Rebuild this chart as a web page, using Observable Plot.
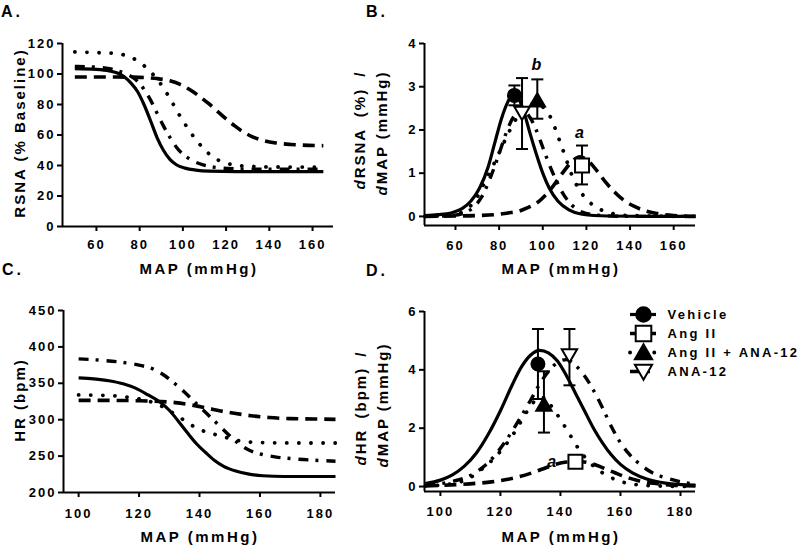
<!DOCTYPE html>
<html><head><meta charset="utf-8">
<script src="https://cdn.jsdelivr.net/npm/d3@7"></script>
<script src="https://cdn.jsdelivr.net/npm/@observablehq/plot@0.6"></script>
<style>
html,body{margin:0;padding:0;background:#fff;}
#wrap{position:relative;width:800px;height:546px;overflow:hidden;background:#fff;}
.panel{position:absolute;}
#overlay{position:absolute;left:0;top:0;pointer-events:none;}
#overlay text{font-family:"Liberation Sans",Arial,sans-serif;font-weight:bold;fill:#000;}
</style></head><body>
<div id="wrap">
  <div class="panel" id="pA" style="left:0;top:0;width:345px;height:273px"></div>
  <div class="panel" id="pB" style="left:345px;top:0;width:455px;height:273px"></div>
  <div class="panel" id="pC" style="left:0;top:273px;width:345px;height:273px"></div>
  <div class="panel" id="pD" style="left:345px;top:273px;width:455px;height:273px"></div>
  <div class="panel" id="legend" style="left:620px;top:290px;width:180px;height:105px"></div>
  <svg id="overlay" width="800" height="546">
    <g font-size="16" letter-spacing="3">
      <text x="1" y="17">A.</text>
      <text x="366" y="17">B.</text>
      <text x="2" y="275">C.</text>
      <text x="366" y="276">D.</text>
    </g>
    <g font-size="15" letter-spacing="2.5" text-anchor="middle">
      <text x="199" y="274">MAP (mmHg)</text>
      <text x="561" y="274">MAP (mmHg)</text>
      <text x="200" y="542">MAP (mmHg)</text>
      <text x="561" y="542">MAP (mmHg)</text>
    </g>
    <g font-size="15" letter-spacing="2" text-anchor="middle">
      <text transform="translate(25,133) rotate(-90)">RSNA (% Baseline)</text>
      <text transform="translate(365,130) rotate(-90)" word-spacing="5"><tspan font-style="italic">d</tspan>RSNA (%) /</text>
      <text transform="translate(387,133) rotate(-90)"><tspan font-style="italic">d</tspan>MAP (mmHg)</text>
      <text transform="translate(25,400) rotate(-90)">HR (bpm)</text>
      <text transform="translate(366,408) rotate(-90)" word-spacing="4"><tspan font-style="italic">d</tspan>HR (bpm) /</text>
      <text transform="translate(388,405) rotate(-90)"><tspan font-style="italic">d</tspan>MAP (mmHg)</text>
    </g>
  </svg>
</div>
<script>
// ---------- series names ----------
const seriesNames = ["Vehicle", "Ang II", "Ang II + ANA-12", "ANA-12"];

// ---------- Panel A: RSNA (% baseline) vs MAP ----------
const rsnaVehicle = [[50,103.5],[60,103],[66,102],[70,100.5],[73,98],[76,94],[79,88.5],[82,80],[85,69.5],[88,58.5],[91,50],[94,44],[97,40.5],[101,38.3],[106,37],[112,36.3],[125,36],[145,36],[165,36]];
const rsnaAngII = [[50,98],[60,98],[70,98],[80,97.8],[88,97],[94,95.5],[99,93],[104,89],[108,85],[112,80.5],[116,75.5],[120,70.5],[124,66],[128,62],[132,59],[137,56.5],[143,54.8],[150,53.8],[158,53.2],[165,53]];
const rsnaAngIIAna = [[50,114.5],[60,114],[68,113.5],[74,112],[78,109.5],[82,105.5],[86,100],[90,93],[94,84],[98,74],[102,65],[106,57],[110,50.5],[114,45.5],[118,42.5],[123,40.5],[130,39.5],[145,39],[165,39]];
const rsnaAna12 = [[50,105],[60,104.5],[66,103.5],[70,102],[74,100],[78,96.5],[82,90],[85,83],[88,74.5],[91,66],[94,58.5],[97,52],[100,47.5],[104,43.5],[109,40.5],[115,38.8],[125,37.8],[140,37.5],[165,37.5]];
const rsnaTicks = [0,20,40,60,80,100,120];
const mapTicksA = [60,80,100,120,140,160];

// ---------- Panel B: dRSNA/dMAP ----------
const drsnaVehicle = [[46,0.02],[52,0.04],[58,0.08],[63,0.18],[67,0.35],[71,0.65],[75,1.15],[78,1.7],[81,2.25],[84,2.65],[86.5,2.82],[89,2.72],[91.5,2.4],[94,1.95],[97,1.45],[100,1.0],[103,0.65],[107,0.35],[112,0.15],[118,0.05],[130,0.01],[150,0],[170,0]];
const drsnaAngII = [[46,0],[60,0.01],[70,0.02],[78,0.04],[84,0.08],[89,0.12],[93,0.2],[97,0.3],[101,0.48],[105,0.72],[109,1.0],[113,1.25],[117,1.38],[120,1.32],[123,1.17],[126,0.98],[129,0.78],[133,0.56],[137,0.38],[142,0.23],[147,0.13],[153,0.06],[160,0.02],[170,0]];
const drsnaAngIIAna = [[46,0],[55,0.02],[60,0.05],[64,0.12],[67,0.25],[70,0.45],[73,0.75],[77,1.15],[81,1.58],[85,2.0],[89,2.35],[93,2.56],[97,2.62],[101,2.48],[104,2.25],[107,1.85],[110,1.43],[113,1.0],[116,0.68],[120,0.4],[125,0.2],[130,0.09],[140,0.02],[170,0]];
const drsnaAna12 = [[46,0],[58,0.02],[64,0.08],[68,0.2],[72,0.45],[76,0.9],[80,1.45],[83,1.9],[86,2.25],[89,2.42],[91,2.44],[94,2.3],[97,2.0],[100,1.6],[103,1.2],[106,0.85],[109,0.55],[113,0.28],[118,0.1],[125,0.03],[140,0],[170,0]];
const drsnaPtMAP  = [87, 118, 97.5, 90.5];
const drsnaPtMean = [2.8, 1.18, 2.68, 2.4];
const drsnaPtLo   = [2.57, 0.74, 2.26, 1.56];
const drsnaPtHi   = [3.03, 1.64, 3.17, 3.2];
const drsnaNotes = [{map: 97.5, v: 3.5, t: "b"}, {map: 117.3, v: 1.93, t: "a"}];
const drsnaTicks = [0,1,2,3,4];
const mapTicksB = [60,80,100,120,140,160];

// ---------- Panel C: HR (bpm) vs MAP ----------
const hrVehicle = [[100,357.5],[105,356],[110,353.5],[115,349],[119,343],[123,334],[127,324],[130,313],[133,298],[136,282],[139,267],[142,255],[145,244],[148,236],[152,229.5],[156,225.5],[161,223],[168,222],[185,222]];
const hrAngII = [[100,326.5],[110,326.5],[120,326],[127,325],[132,323.5],[137,320.5],[142,316.5],[147,312],[152,308.5],[157,305.5],[163,303],[170,301.5],[178,301],[185,300.5]];
const hrAngIIAna = [[100,334],[108,333.5],[115,331.5],[120,328.5],[125,323],[129,315],[132,307],[135,299],[138,291],[141,285],[144,281],[148,276.5],[152,272],[156,269.5],[162,268.5],[172,268],[185,268]];
const hrAna12 = [[100,383.5],[108,381.5],[114,379],[120,375],[125,369],[129,359],[132,349],[135,338],[138,326],[141,314],[144,302],[147,290],[150,278],[153,267],[156,259],[160,253],[165,249],[172,246],[185,243]];
const hrTicks = [200,250,300,350,400,450];
const mapTicksC = [100,120,140,160,180];

// ---------- Panel D: dHR/dMAP ----------
const dhrVehicle = [[95,0.1],[100,0.22],[104,0.4],[108,0.7],[112,1.15],[116,1.8],[120,2.6],[124,3.5],[127,4.1],[130,4.5],[133,4.67],[136,4.58],[139,4.3],[142,3.8],[145,3.2],[148,2.6],[151,2.0],[154,1.5],[157,1.08],[160,0.76],[164,0.47],[169,0.25],[175,0.12],[185,0.05]];
const dhrAngII = [[95,0.02],[100,0.04],[106,0.07],[112,0.11],[117,0.16],[122,0.24],[126,0.33],[130,0.45],[134,0.6],[138,0.75],[142,0.84],[146,0.86],[150,0.8],[154,0.65],[158,0.48],[162,0.32],[166,0.2],[171,0.11],[177,0.05],[185,0.02]];
const dhrAngIIAna = [[95,0.02],[100,0.05],[105,0.12],[109,0.25],[112,0.45],[115,0.7],[118,0.98],[121,1.33],[124,1.75],[127,2.25],[130,2.75],[133,3.05],[135,3.05],[137,2.75],[140,2.3],[143,1.8],[146,1.3],[150,0.8],[154,0.47],[157,0.3],[162,0.12],[170,0.03],[185,0]];
const dhrAna12 = [[95,0.05],[100,0.1],[105,0.2],[110,0.38],[114,0.65],[118,1.05],[122,1.6],[126,2.25],[130,2.95],[133,3.5],[136,3.95],[139,4.25],[142,4.35],[145,4.15],[148,3.8],[151,3.3],[154,2.7],[157,2.05],[160,1.5],[163,1.1],[167,0.72],[171,0.45],[175,0.3],[180,0.16],[185,0.08]];
const dhrPtMAP  = [132.5, 145, 134.5, 143];
const dhrPtMean = [4.2, 0.85, 2.8, 4.5];
const dhrPtLo   = [3.0, 0.75, 1.85, 3.47];
const dhrPtHi   = [5.4, 0.95, 3.95, 5.4];
const dhrNotes = [{map: 137.4, v: 0.83, t: "a"}];
const dhrTicks = [0,2,4,6];
const mapTicksD = [100,120,140,160,180];

// ---------- symbols & styles ----------
const squareSym = {draw(ctx, size){const r=Math.sqrt(size/Math.PI); ctx.moveTo(-r,-r); ctx.lineTo(r,-r); ctx.lineTo(r,r); ctx.lineTo(-r,r); ctx.closePath();}};
const triUp = {draw(ctx, size){const r=Math.sqrt(size/Math.PI); ctx.moveTo(0,-r*1.05); ctx.lineTo(r*1.1,r*0.85); ctx.lineTo(-r*1.1,r*0.85); ctx.closePath();}};
const triDown = {draw(ctx, size){const r=Math.sqrt(size/Math.PI); ctx.moveTo(0,r*1.05); ctx.lineTo(r*1.1,-r*0.85); ctx.lineTo(-r*1.1,-r*0.85); ctx.closePath();}};
const capSym = {draw(ctx, size){const r=Math.sqrt(size/Math.PI); ctx.moveTo(-r,0); ctx.lineTo(r,0);}};

const styleOf = {
  "Vehicle":         {dash: null,        width: 3.2, cap: "butt",  symbol: "circle",  fill: "black", r: 6.5},
  "Ang II":          {dash: "12,7",      width: 3.6, cap: "butt",  symbol: squareSym, fill: "white", r: 7},
  "Ang II + ANA-12": {dash: "0.1,12",    width: 3.8, cap: "round", symbol: triUp,     fill: "black", r: 7},
  "ANA-12":          {dash: "10,7,3,8",  width: 3.4, cap: "butt",  symbol: triDown,   fill: "white", r: 7}
};

const baseStyle = {fontFamily: "'Liberation Sans', Arial, sans-serif", fontWeight: "bold", fontSize: "13px", letterSpacing: "2px", color: "black", background: "white", overflow: "visible"};
const plainFormat = d => String(d);

function buildPanel(cfg){
  const marks = [];
  marks.push(Plot.ruleX([cfg.xDomain[0]], {strokeWidth: 2}));
  marks.push(Plot.ruleY([cfg.yDomain[0]], {strokeWidth: 2}));
  marks.push(Plot.axisX({ticks: cfg.xTicks, tickFormat: plainFormat, tickSize: 5, tickPadding: cfg.xPad, strokeWidth: 2, label: null, fontSize: 13}));
  marks.push(Plot.axisY({ticks: cfg.yTicks, tickFormat: plainFormat, tickSize: 5, tickPadding: 2, strokeWidth: 2, label: null, fontSize: 13}));
  cfg.curves.forEach((data, i) => {
    const s = styleOf[seriesNames[i]];
    marks.push(Plot.line(data, {x: d => d[0], y: d => d[1], curve: "monotone-x", stroke: "black",
      strokeWidth: s.width, strokeDasharray: s.dash, strokeLinecap: s.cap}));
  });
  if (cfg.pts) {
    const pts = seriesNames.map((name, i) => ({name, map: cfg.pts.map[i], mean: cfg.pts.mean[i], lo: cfg.pts.lo[i], hi: cfg.pts.hi[i]}));
    marks.push(Plot.ruleX(pts, {x: "map", y1: "lo", y2: "hi", strokeWidth: 2, stroke: "black"}));
    marks.push(Plot.dot(pts, {x: "map", y: "lo", symbol: capSym, r: 6, fill: "none", stroke: "black", strokeWidth: 2}));
    marks.push(Plot.dot(pts, {x: "map", y: "hi", symbol: capSym, r: 6, fill: "none", stroke: "black", strokeWidth: 2}));
    pts.forEach(p => {
      const s = styleOf[p.name];
      marks.push(Plot.dot([p], {x: "map", y: "mean", symbol: s.symbol, r: s.r, fill: s.fill, stroke: "black", strokeWidth: 2}));
    });
  }
  if (cfg.notes) {
    marks.push(Plot.text(cfg.notes, {x: "map", y: "v", text: "t", fontSize: 16, fontStyle: "italic", fontWeight: "bold", fill: "black"}));
  }
  return Plot.plot({
    width: cfg.w, height: cfg.h,
    marginLeft: cfg.ml, marginRight: cfg.mr, marginTop: cfg.mt, marginBottom: cfg.mb,
    x: {domain: cfg.xDomain}, y: {domain: cfg.yDomain},
    style: baseStyle,
    marks
  });
}

document.getElementById("pA").append(buildPanel({
  w: 345, h: 273, ml: 62, mr: 12, mt: 43, mb: 47,
  xDomain: [44.3, 169.7], yDomain: [0, 120], xTicks: mapTicksA, yTicks: rsnaTicks, xPad: 8,
  curves: [rsnaVehicle, rsnaAngII, rsnaAngIIAna, rsnaAna12]
}));
document.getElementById("pB").append(buildPanel({
  w: 455, h: 273, ml: 79, mr: 105, mt: 43, mb: 48,
  xDomain: [45.8, 170], yDomain: [-0.21, 4], xTicks: mapTicksB, yTicks: drsnaTicks, xPad: 10,
  curves: [drsnaVehicle, drsnaAngII, drsnaAngIIAna, drsnaAna12],
  pts: {map: drsnaPtMAP, mean: drsnaPtMean, lo: drsnaPtLo, hi: drsnaPtHi},
  notes: drsnaNotes
}));
document.getElementById("pC").append(buildPanel({
  w: 345, h: 273, ml: 63, mr: 10, mt: 37, mb: 54,
  xDomain: [95, 185], yDomain: [200, 450], xTicks: mapTicksC, yTicks: hrTicks, xPad: 11,
  curves: [hrVehicle, hrAngII, hrAngIIAna, hrAna12]
}));
document.getElementById("pD").append(buildPanel({
  w: 455, h: 273, ml: 79, mr: 105, mt: 38, mb: 55,
  xDomain: [94.7, 185], yDomain: [-0.17, 6], xTicks: mapTicksD, yTicks: dhrTicks, xPad: 10,
  curves: [dhrVehicle, dhrAngII, dhrAngIIAna, dhrAna12],
  pts: {map: dhrPtMAP, mean: dhrPtMean, lo: dhrPtLo, hi: dhrPtHi},
  notes: dhrNotes
}));

// ---------- legend ----------
const legendMarks = [];
seriesNames.forEach(name => {
  const s = styleOf[name];
  legendMarks.push(Plot.ruleY([name], {y: d => d, x1: 0, x2: 1, stroke: "black", strokeWidth: s.width, strokeDasharray: s.dash, strokeLinecap: s.cap}));
  legendMarks.push(Plot.dot([name], {y: d => d, x: 0.5, symbol: s.symbol, r: s.r + 0.8, fill: s.fill, stroke: "black", strokeWidth: 2}));
  legendMarks.push(Plot.text([name], {y: d => d, x: 1, dx: 11, text: d => d, textAnchor: "start", fontSize: 13, fontWeight: "bold", fill: "black"}));
});
document.getElementById("legend").append(Plot.plot({
  width: 180, height: 105, margin: 0,
  x: {domain: [0, 1], range: [10, 36], axis: null},
  y: {type: "point", domain: seriesNames, range: [14, 91], axis: null},
  style: Object.assign({}, baseStyle, {letterSpacing: "2.3px"}),
  marks: legendMarks
}));
</script>
</body></html>
